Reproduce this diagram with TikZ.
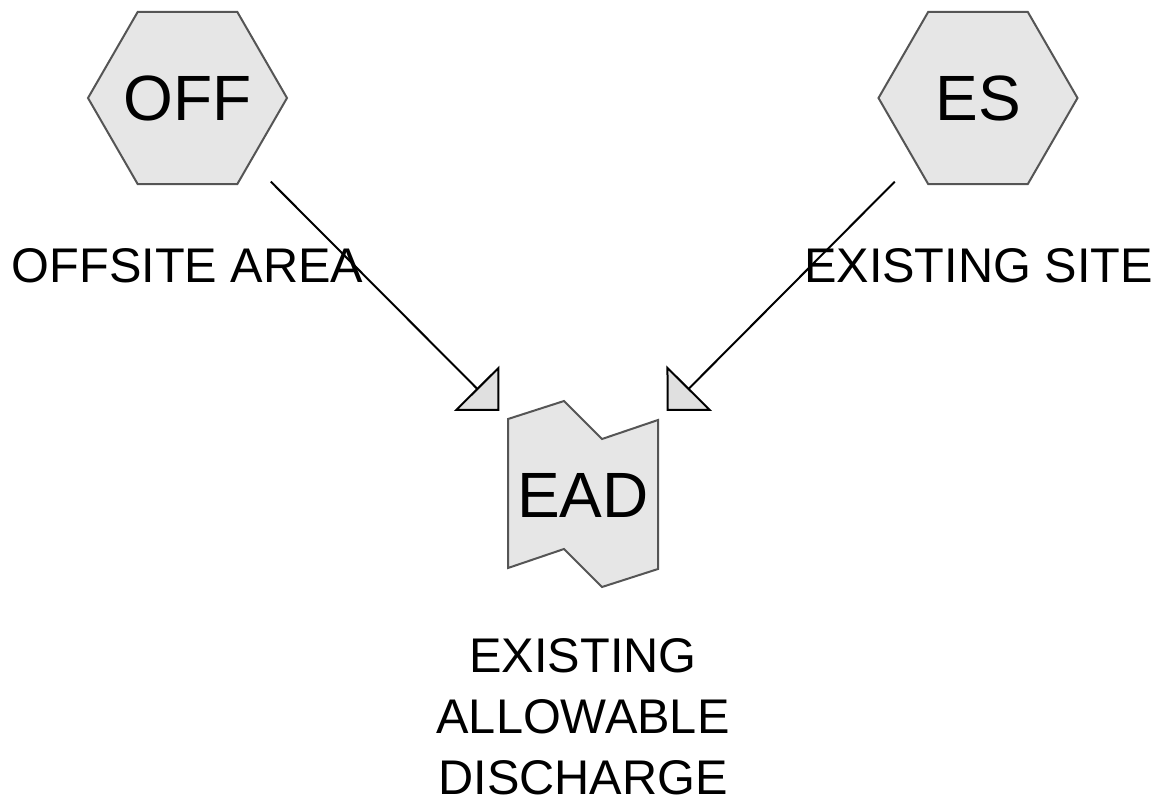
\documentclass[tikz,border=0pt]{standalone}
\usepackage{fontspec}
\setmainfont{Liberation Sans}
\usetikzlibrary{arrows.meta,shapes.geometric,positioning,backgrounds}

\definecolor{shapefill}{HTML}{E6E6E6}
\definecolor{shapeedge}{HTML}{555555}
\definecolor{tipfill}{HTML}{E0E0E0}

\tikzset{
  hexbox/.style={regular polygon, regular polygon sides=6, minimum size=149.25pt,
    inner xsep=-18pt, inner ysep=0pt, draw=shapeedge, fill=shapefill, line width=1.5pt,
    font=\fontsize{48}{58}\selectfont},
  caption/.style={anchor=base, inner sep=0pt, font=\fontsize{36.5}{45.75}\selectfont},
  tapebox/.style={draw=shapeedge, fill=shapefill, line width=1.5pt, line join=miter},
  flow/.style={line width=1.5pt, -{Triangle[length=24pt, width=48pt, fill=tipfill]},
    shorten <=88.5pt, shorten >=89pt}
}

\begin{document}
\begin{tikzpicture}[x=0.75pt, y=-0.75pt]
	\useasboundingbox (0,0) rectangle (1165,804);
	\node[hexbox] (off) at (187.5,98) {OFF};
	\node[hexbox] (es) at (978,98) {ES};
	\node[inner sep=0pt, font=\fontsize{48}{58}\selectfont] (ead) at (583,495) {EAD};
	\begin{scope}[on background layer]
		\draw[tapebox, shift={(ead.center)}] (-75,-76) -- (-19,-94) -- (19,-56) -- (75,-75)
			-- (75,74) -- (19,92) -- (-19,54) -- (-75,73) -- cycle;
	\end{scope}
	\node[caption] (offlabel) at (187.5,282) {OFFSITE AREA};
	\node[caption] (eslabel) at (978.5,282) {EXISTING SITE};
	\node[caption, anchor=center, align=center] (eadlabel) at (583,717) {EXISTING\\ALLOWABLE\\DISCHARGE};
	\draw[flow] (off.center) -- (ead.center);
	\draw[flow] (es.center) -- (ead.center);
\end{tikzpicture}
\end{document}
